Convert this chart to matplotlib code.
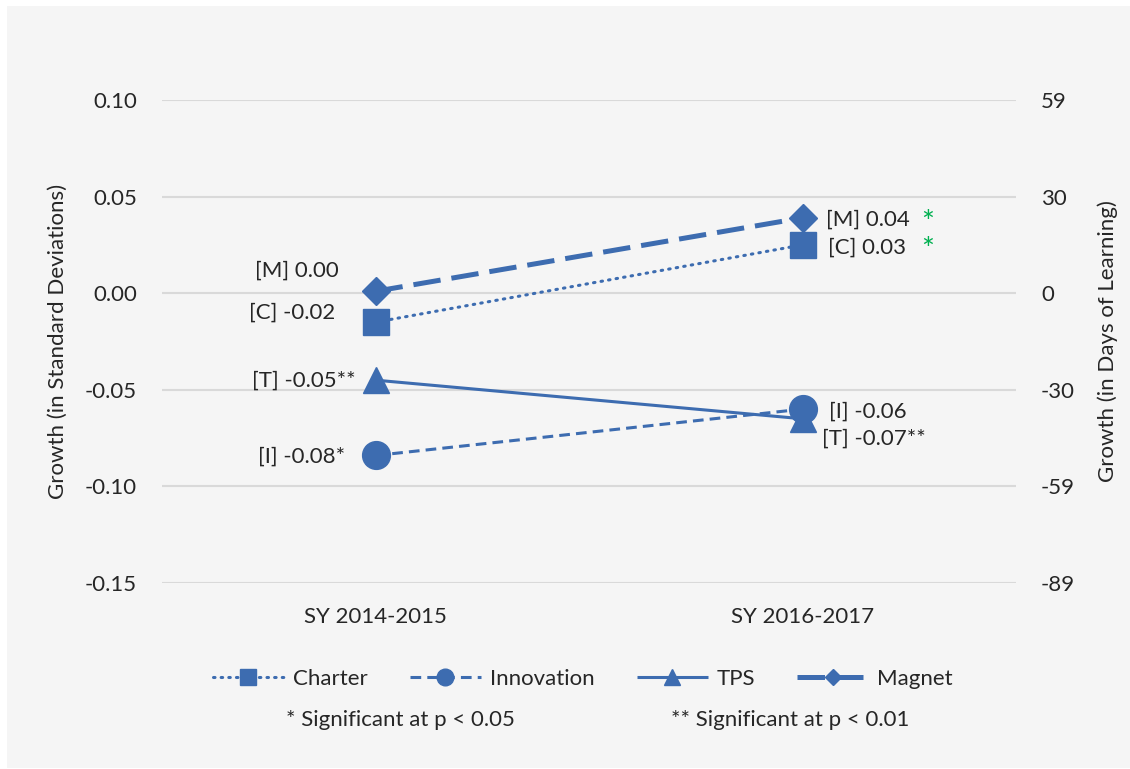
import matplotlib
matplotlib.use("Agg")
import matplotlib.pyplot as plt
from matplotlib.patches import Rectangle

plt.rcParams['font.family'] = ['Lato', 'DejaVu Sans']

categories = ["SY 2014-2015", "SY 2016-2017"]
series_names = ["Charter", "Innovation", "TPS", "Magnet"]
charter = [-0.015, 0.025]
innovation = [-0.084, -0.060]
tps = [-0.045, -0.065]
magnet = [0.001, 0.039]
left_labels = ["[C] -0.02", "[I] -0.08*", "[T] -0.05**", "[M] 0.00"]
right_labels = ["[C] 0.03", "[I] -0.06", "[T] -0.07**", "[M] 0.04"]
right_sig_green = [True, False, False, True]
yticks = [0.10, 0.05, 0.00, -0.05, -0.10, -0.15]
ytick_labels = ["0.10", "0.05", "0.00", "-0.05", "-0.10", "-0.15"]
right_tick_labels = ["59", "30", "0", "-30", "-59", "-89"]

BLUE = '#3d6cb0'
TXT = '#262626'
FS = 16

fig = plt.figure(figsize=(11.30, 7.69), dpi=100)
fig.patch.set_facecolor('white')
fig.patches.append(Rectangle((7/1130, 1/769), 1 - 7/1130, 1 - 7/769,
                             transform=fig.transFigure, facecolor='#f5f5f5',
                             edgecolor='none', zorder=-10))

ax = fig.add_axes([162/1130, 1 - 583/769, 854/1130, 483/769])
ax.set_facecolor('none')
x = [0, 1]

styles = [
    dict(marker='s', ms=18.5, lw=2.2, linestyle=(0, (0.5, 2.0)), dash_capstyle='round'),
    dict(marker='o', ms=20, lw=2.2, linestyle=(0, (3.5, 2))),
    dict(marker='^', ms=19, lw=2.2, linestyle='-'),
    dict(marker='D', ms=14, lw=3.6, linestyle=(0, (5.5, 2.2))),
]
data = [charter, innovation, tps, magnet]
handles = []
for name, vals, st in zip(series_names, data, styles):
    h, = ax.plot(x, vals, color=BLUE, markerfacecolor=BLUE, markeredgecolor=BLUE,
                 label=name, zorder=3, solid_capstyle='butt', **st)
    handles.append(h)

ax.set_xlim(-0.5, 1.5)
ax.set_ylim(-0.15, 0.10)
ax.set_yticks(yticks)
ax.set_yticklabels(ytick_labels)
ax.set_xticks(x)
ax.set_xticklabels(categories)
ax.grid(axis='y', color='#d9d9d9', lw=1.5)
ax.set_axisbelow(True)
for s in ax.spines.values():
    s.set_visible(False)
ax.tick_params(axis='both', length=0, labelsize=FS, colors=TXT)
ax.tick_params(axis='y', pad=18)
ax.tick_params(axis='x', pad=17)
ax.set_ylabel("Growth (in Standard Deviations)", fontsize=FS, color=TXT, labelpad=12)

ax2 = ax.twinx()
ax2.set_ylim(ax.get_ylim())
ax2.set_yticks(yticks)
ax2.set_yticklabels(right_tick_labels)
for s in ax2.spines.values():
    s.set_visible(False)
ax2.tick_params(axis='y', length=0, labelsize=FS, colors=TXT, pad=18)
ax2.set_ylabel("Growth (in Days of Learning)", fontsize=FS, color=TXT, labelpad=16)

# left labels (offsets in points)
left_off = [(-29, 7), (-22, -0.7), (-14, -0.7), (-26.5, 15)]
for vals, lab, off in zip(data, left_labels, left_off):
    ax.annotate(lab, (0, vals[0]), xytext=off, textcoords='offset points',
                ha='right', va='center', fontsize=FS, color=TXT, zorder=5)
right_off = [(18, -2), (19, -1.5), (14, -14), (17, -1.4)]
for vals, lab, off, g in zip(data, right_labels, right_off, right_sig_green):
    ax.annotate(lab, (1, vals[1]), xytext=off, textcoords='offset points',
                ha='left', va='center', fontsize=FS, color=TXT, zorder=5)
    if g:
        ax.annotate('*', (1, vals[1]), xytext=(90, off[1] - 2),
                    textcoords='offset points', ha='center', va='center',
                    fontsize=22, color='#00b050', zorder=5)

leg = fig.legend(handles=handles, loc='center', bbox_to_anchor=(583/1130, 1 - 679/769),
                 ncol=4, frameon=False, fontsize=FS, handlelength=3.2,
                 columnspacing=1.9, handletextpad=0.4, markerscale=0.6)
for t in leg.get_texts():
    t.set_color(TXT)

fig.text(400/1130, 1 - 720/769, "* Significant at p < 0.05", ha='center', va='center',
         fontsize=FS, color=TXT)
fig.text(790/1130, 1 - 720/769, "** Significant at p < 0.01", ha='center', va='center',
         fontsize=FS, color=TXT)

fig.savefig("out.png", dpi=100, facecolor=fig.get_facecolor())
